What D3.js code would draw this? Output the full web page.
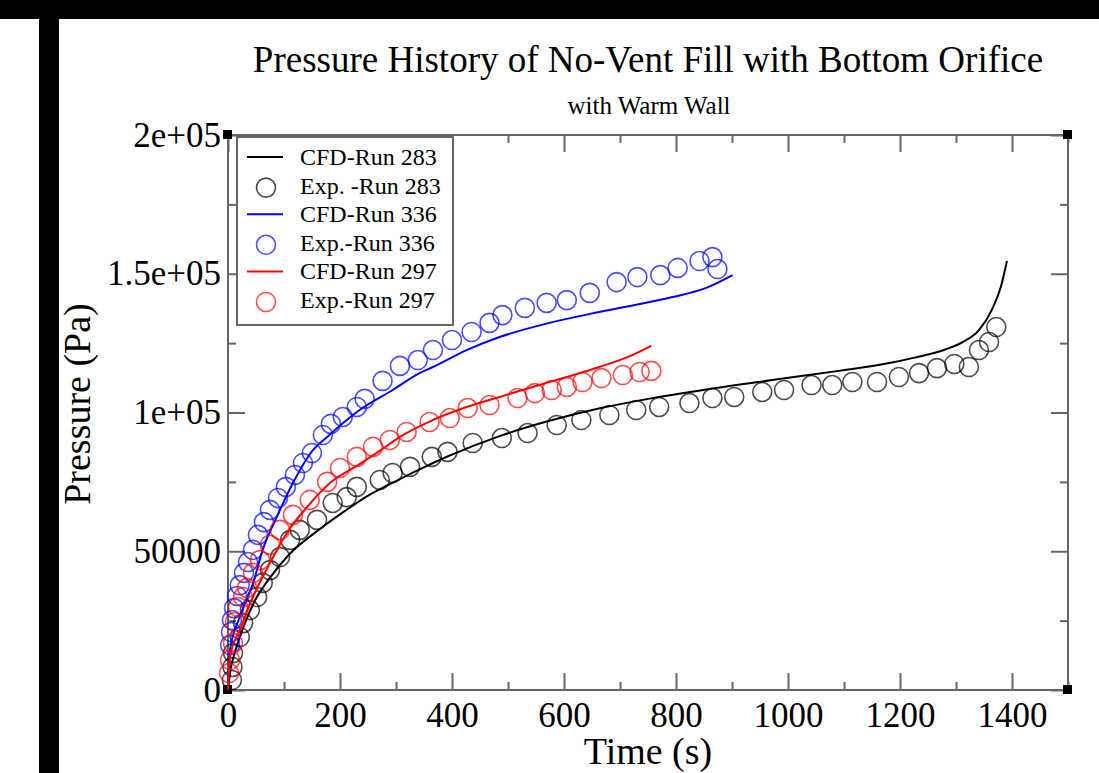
<!DOCTYPE html>
<html>
<head>
<meta charset="utf-8">
<script src="https://cdn.jsdelivr.net/npm/d3@7"></script>
<style>
  body { margin: 0; background: #fff; }
  svg text { font-family: "Liberation Serif", "Times New Roman", serif; fill: #000; }
</style>
</head>
<body>
<div id="chart"></div>
<script>
// values: [time (s), pressure (Pa)]
var cfd283 = [[0,0],[5,8000],[10,12000],[21,19000],[45,31000],[75,40500],[110,49000],[164,58000],[205,64000],[248,69800],[307,76000],[342,79500],[396,84500],[485,91500],[574,97000],[664,101500],[753,105000],[854,108300],[972,111700],[1091,115000],[1181,117800],[1222,119600],[1282,122800],[1311,125300],[1341,129700],[1364,137000],[1380,145200],[1391,154600]];
var exp283 = [[7,3600],[8,8300],[9,13300],[21,19100],[27,24100],[39,28800],[52,33500],[62,38600],[75,43200],[93,47900],[111,54100],[128,57700],[159,61300],[187,67400],[212,69500],[230,73200],[271,75700],[294,78200],[325,80400],[364,84000],[392,85800],[437,89000],[489,90800],[535,92600],[587,95500],[631,97300],[681,99100],[729,100900],[770,102000],[824,103400],[865,105200],[904,105600],[954,107400],[993,108100],[1042,109900],[1079,109900],[1115,111000],[1159,111000],[1198,112800],[1234,114200],[1266,116000],[1297,117500],[1323,116400],[1341,122500],[1359,125400],[1372,130800]];
var cfd336 = [[0,0],[3.6,14400],[21,26300],[45,38600],[62,50500],[87,62300],[116,74600],[152,86500],[177,91200],[235,100900],[294,108100],[342,114200],[366,116400],[426,122500],[485,127200],[574,132300],[663,136200],[753,139800],[794,141600],[854,144900],[901,149500]];
var exp336 = [[3.6,16200],[5.4,20900],[7.1,25200],[10.7,29500],[16,33900],[21,37800],[28.5,42200],[35.7,46100],[44.6,50500],[53.5,55900],[64.2,60500],[74.9,64900],[89.2,69200],[103.4,73200],[119.5,77500],[133.8,81800],[149.8,85400],[169.4,91900],[183.7,95900],[205,98400],[230,102000],[244,104900],[276,111400],[307,116800],[339,118900],[366,122500],[400,126100],[435,129000],[467,132300],[490,135100],[530,137700],[569,139500],[605,140500],[646,143100],[694,147000],[731,148800],[772,149500],[803,152100],[842,154600],[865,156000],[874,151700]];
var cfd297 = [[0,0],[3.6,11900],[21,21600],[44.6,33500],[75,45800],[105,56600],[141,65900],[182,74600],[235,81400],[284,88000],[307,91200],[366,97300],[426,102000],[485,105600],[544,109200],[605,112800],[663,116400],[722,120700],[756,124000]];
var exp297 = [[1.8,6100],[3.6,10800],[8.9,16900],[12.5,24500],[17.8,29900],[26.8,33500],[33.9,36800],[44.6,42200],[57.1,46800],[74.9,52300],[92.7,57700],[116,63100],[146,68500],[177,75000],[200,80000],[230,84000],[259,87600],[289,90100],[319,93000],[360,96600],[396,98000],[428,101600],[467,102700],[517,105200],[548,107000],[578,108100],[605,109200],[633,111000],[667,112400],[705,113500],[735,114600],[756,115000]];

var xTicks = [0,200,400,600,800,1000,1200,1400];
var xMinor = [100,300,500,700,900,1100,1300,1500];
var yTicks = [0,50000,100000,150000,200000];
var yTickLabels = ["0","50000","1e+05","1.5e+05","2e+05"];
var yMinor = [25000,75000,125000,175000];

var legendNames = ["CFD-Run 283","Exp. -Run 283","CFD-Run 336","Exp.-Run 336","CFD-Run 297","Exp.-Run 297"];
var legendKinds = ["line","circle","line","circle","line","circle"];
var legendColors = ["#000","#000","#0000ff","#0000ff","#ff0000","#ff0000"];

(function() {
  var W = 1099, H = 773;
  var pl = 228, pr = 1068, pt = 135, pb = 690;

  var svg = d3.select("#chart").append("svg")
    .attr("width", W).attr("height", H);

  // black frame bits of the screenshot
  svg.append("rect").attr("x",0).attr("y",0).attr("width",W).attr("height",19).attr("fill","#000");
  svg.append("rect").attr("x",39).attr("y",0).attr("width",20).attr("height",H).attr("fill","#000");

  var x = d3.scaleLinear().domain([0,1500]).range([pl,pr]);
  var y = d3.scaleLinear().domain([0,200000]).range([pb,pt]);

  var axisColor = "#666";

  function styleAxis(g) {
    g.select(".domain").remove();
    g.selectAll(".tick line").attr("stroke", axisColor).attr("stroke-width", 2);
  }

  // major + minor ticks on all four sides, pointing inward
  svg.append("g").attr("transform","translate(0,"+pb+")")
    .call(d3.axisBottom(x).tickValues(xTicks).tickSize(-17).tickPadding(12).tickFormat(d3.format("d")))
    .call(styleAxis)
    .selectAll("text").style("font-size","35px").attr("fill","#000");
  svg.append("g").attr("transform","translate(0,"+pb+")")
    .call(d3.axisBottom(x).tickValues(xMinor).tickSize(-8).tickFormat(""))
    .call(styleAxis);
  svg.append("g").attr("transform","translate(0,"+pt+")")
    .call(d3.axisTop(x).tickValues(xTicks).tickSize(-17).tickFormat(""))
    .call(styleAxis);
  svg.append("g").attr("transform","translate(0,"+pt+")")
    .call(d3.axisTop(x).tickValues(xMinor).tickSize(-8).tickFormat(""))
    .call(styleAxis);

  svg.append("g").attr("transform","translate("+pl+",0)")
    .call(d3.axisLeft(y).tickValues(yTicks).tickSize(-17).tickPadding(7)
      .tickFormat(function(d,i){ return yTickLabels[i]; }))
    .call(styleAxis)
    .selectAll("text").style("font-size","35px").attr("fill","#000");
  svg.append("g").attr("transform","translate("+pl+",0)")
    .call(d3.axisLeft(y).tickValues(yMinor).tickSize(-8).tickFormat(""))
    .call(styleAxis);
  svg.append("g").attr("transform","translate("+pr+",0)")
    .call(d3.axisRight(y).tickValues(yTicks).tickSize(-17).tickFormat(""))
    .call(styleAxis);
  svg.append("g").attr("transform","translate("+pr+",0)")
    .call(d3.axisRight(y).tickValues(yMinor).tickSize(-8).tickFormat(""))
    .call(styleAxis);

  // frame
  svg.append("rect")
    .attr("x",pl).attr("y",pt).attr("width",pr-pl).attr("height",pb-pt)
    .attr("fill","none").attr("stroke",axisColor).attr("stroke-width",2);

  // small corner squares
  [[pl,pt],[pr,pt],[pr,pb],[pl,pb]].forEach(function(c){
    svg.append("rect").attr("x",c[0]-5).attr("y",c[1]-5).attr("width",9).attr("height",9).attr("fill","#000");
  });

  var line = d3.line()
    .curve(d3.curveMonotoneX)
    .x(function(d){ return x(d[0]); })
    .y(function(d){ return y(d[1]); });

  function drawCurve(data, color) {
    svg.append("path").datum(data)
      .attr("d", line)
      .attr("fill","none")
      .attr("stroke", color)
      .attr("stroke-width", 2);
  }

  function drawCircles(data, color) {
    svg.append("g").selectAll("circle")
      .data(data)
      .enter().append("circle")
      .attr("cx", function(d){ return x(d[0]); })
      .attr("cy", function(d){ return y(d[1]); })
      .attr("r", 9.5)
      .attr("fill","none")
      .attr("stroke", color)
      .attr("stroke-opacity", 0.7)
      .attr("stroke-width", 1.6);
  }

  drawCurve(cfd283, "#000");
  drawCircles(exp283, "#000");
  drawCurve(cfd336, "#0000ff");
  drawCircles(exp336, "#0000ff");
  drawCurve(cfd297, "#ff0000");
  drawCircles(exp297, "#ff0000");

  // legend
  var legend = svg.append("g");
  legend.append("rect")
    .attr("x",237).attr("y",137).attr("width",216).attr("height",188)
    .attr("fill","#fff").attr("stroke",axisColor).attr("stroke-width",2);

  var rows = legend.selectAll(".row")
    .data(legendNames)
    .enter().append("g")
    .attr("class","row")
    .attr("transform", function(d,i){ return "translate(0," + (157 + i*28.6) + ")"; });

  rows.each(function(d,i){
    var r = d3.select(this);
    if (legendKinds[i] == "line") {
      r.append("line").attr("x1",247).attr("x2",283).attr("y1",0).attr("y2",0)
        .attr("stroke",legendColors[i]).attr("stroke-width",2);
    } else {
      r.append("circle").attr("cx",266).attr("cy",2).attr("r",9.5)
        .attr("fill","none").attr("stroke",legendColors[i]).attr("stroke-opacity",0.7).attr("stroke-width",1.6);
    }
    r.append("text").attr("x",300).attr("y",8).style("font-size","24px").text(d);
  });

  // titles
  svg.append("text").attr("x",648).attr("y",72).attr("text-anchor","middle")
    .style("font-size","37px").text("Pressure History of No-Vent Fill with Bottom Orifice");
  svg.append("text").attr("x",649).attr("y",114).attr("text-anchor","middle")
    .style("font-size","25px").text("with Warm Wall");
  svg.append("text").attr("x",648).attr("y",764).attr("text-anchor","middle")
    .style("font-size","38px").text("Time (s)");
  svg.append("text").attr("transform","translate(90,404) rotate(-90)").attr("text-anchor","middle")
    .style("font-size","38px").text("Pressure (Pa)");
})();
</script>
</body>
</html>
